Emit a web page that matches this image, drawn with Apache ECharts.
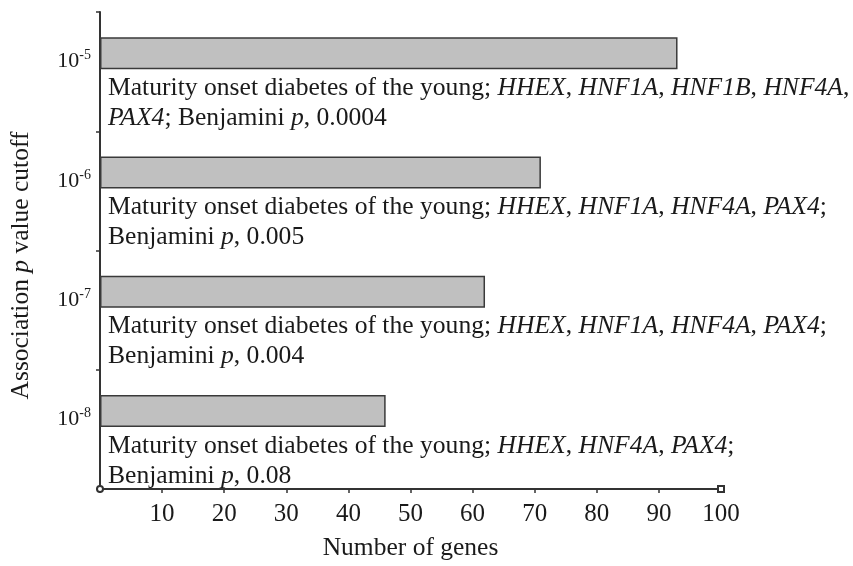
<!DOCTYPE html>
<html>
<head>
<meta charset="utf-8">
<script src="https://cdn.jsdelivr.net/npm/echarts@6/dist/echarts.min.js"></script>
<style>
  html, body { margin: 0; padding: 0; background: #fff; }
  #chart { width: 853px; height: 566px; }
</style>
</head>
<body>
<div id="chart"></div>
<script>
// Association p value cutoffs (exponents of 10), top to bottom
const cutoffExponents = ['-5', '-6', '-7', '-8'];
// Number of genes passing each cutoff
const geneCounts = [93, 71, 62, 46];
// Enriched pathway, genes involved and Benjamini-corrected p for each cutoff
// ({i|...} marks italic text)
const pathwayNotes = [
  'Maturity onset diabetes of the young; {i|HHEX}, {i|HNF1A}, {i|HNF1B}, {i|HNF4A},\n{i|PAX4}; Benjamini {i|p}, 0.0004',
  'Maturity onset diabetes of the young; {i|HHEX}, {i|HNF1A}, {i|HNF4A}, {i|PAX4};\nBenjamini {i|p}, 0.005',
  'Maturity onset diabetes of the young; {i|HHEX}, {i|HNF1A}, {i|HNF4A}, {i|PAX4};\nBenjamini {i|p}, 0.004',
  'Maturity onset diabetes of the young; {i|HHEX}, {i|HNF4A}, {i|PAX4};\nBenjamini {i|p}, 0.08'
];
const xTicks = [10, 20, 30, 40, 50, 60, 70, 80, 90, 100];

const serif = '"Liberation Serif", "Times New Roman", serif';
const ink = '#1a1a1a';

const chart = echarts.init(document.getElementById('chart'), null, { renderer: 'canvas' });

chart.setOption({
  animation: false,
  backgroundColor: '#ffffff',
  textStyle: { fontFamily: serif, color: ink },
  grid: { left: 99.5, right: 132, top: 12, bottom: 77, containLabel: false },
  xAxis: {
    type: 'value',
    min: 0,
    max: 100,
    interval: 10,
    name: 'Number of genes',
    nameLocation: 'middle',
    nameGap: 46,
    nameTextStyle: { fontFamily: serif, fontSize: 25.5, color: ink, verticalAlign: 'top' },
    axisLine: {
      show: true,
      symbol: ['emptyCircle', 'emptyRect'],
      symbolSize: [6, 6],
      lineStyle: { color: '#333', width: 2 }
    },
    axisTick: { show: true, length: 4, lineStyle: { color: '#333', width: 1.5 } },
    splitLine: { show: false },
    axisLabel: {
      fontFamily: serif,
      fontSize: 25,
      color: ink,
      margin: 13,
      formatter: function (v) { return xTicks.indexOf(v) >= 0 ? String(v) : ''; }
    }
  },
  yAxis: {
    type: 'category',
    inverse: true,
    data: cutoffExponents,
    name: '{n|Association }{i|p}{n| value cutoff}',
    nameLocation: 'middle',
    nameRotate: 90,
    nameGap: 66,
    nameTextStyle: {
      fontFamily: serif,
      color: ink,
      padding: [0, 30, 0, 0],
      rich: {
        n: { fontFamily: serif, fontSize: 25.5, color: ink },
        i: { fontFamily: serif, fontSize: 25.5, color: ink, fontStyle: 'italic' }
      }
    },
    axisLine: { show: true, lineStyle: { color: '#333', width: 2 } },
    axisTick: { show: true, length: 4, lineStyle: { color: '#333', width: 1.5 } },
    axisLabel: {
      margin: 9,
      padding: [0, 0, 22, 0],
      formatter: function (v) { return '{b|10}{s|' + v + '}'; },
      rich: {
        b: { fontFamily: serif, fontSize: 22, color: ink, verticalAlign: 'bottom', lineHeight: 24 },
        s: { fontFamily: serif, fontSize: 14, color: ink, verticalAlign: 'top', lineHeight: 24 }
      }
    }
  },
  series: [
    {
      type: 'bar',
      data: geneCounts,
      barWidth: 32,
      barGap: '0%',
      itemStyle: { color: '#c0c0c0', borderColor: '#3a3a3a', borderWidth: 1.5 },
      label: {
        show: true,
        position: [8, 36],
        align: 'left',
        verticalAlign: 'top',
        formatter: function (p) { return pathwayNotes[p.dataIndex]; },
        fontFamily: serif,
        fontSize: 25.6,
        lineHeight: 30,
        color: ink,
        rich: {
          i: { fontFamily: serif, fontSize: 25.6, lineHeight: 30, color: ink, fontStyle: 'italic' }
        }
      },
      silent: true
    },
    {
      // empty spacer series: keeps each bar in the upper part of its row
      type: 'bar',
      data: [null, null, null, null],
      barWidth: 37,
      silent: true
    }
  ]
});
</script>
</body>
</html>
